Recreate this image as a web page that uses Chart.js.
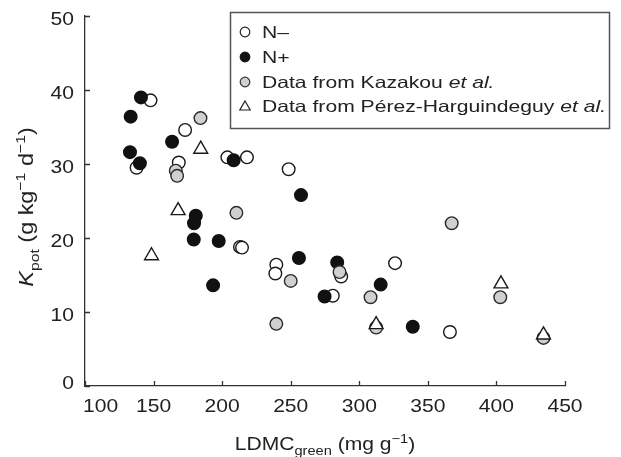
<!DOCTYPE html>
<html lang="en">
<head>
<meta charset="UTF-8">
<title>Kpot vs LDMC</title>
<script src="https://cdn.jsdelivr.net/npm/chart.js"></script>
<style>
  body { margin: 0; background: #fff; }
  #wrap { width: 621px; height: 457px; }
</style>
</head>
<body>
<div id="wrap"><canvas id="kpotChart" width="621" height="457"></canvas></div>
<script>
// LDMC_green (mg/g) and Kpot (g/kg/d)
let nMinusX = [147.8, 137.6, 173, 168.4, 203.8, 218.1, 248.5, 213, 214.5, 239.5, 238.8, 286.8, 280.7, 326.1, 366.1];
let nMinusY = [38.6, 29.5, 34.6, 30.2, 30.9, 30.9, 29.3, 18.8, 18.7, 16.4, 15.2, 14.8, 12.2, 16.6, 7.3];

let nPlusX = [140.8, 133.3, 163.5, 132.8, 140, 208.4, 257.5, 180.8, 179.5, 179.3, 197.5, 193.4, 256, 283.9, 274.7, 315.6, 339];
let nPlusY = [39.0, 36.4, 33.0, 31.6, 30.1, 30.5, 25.8, 23.0, 22.0, 19.8, 19.6, 13.6, 17.3, 16.7, 12.1, 13.7, 8.0];

let kazakouX = [184.2, 166.2, 167.2, 210.4, 250, 285.6, 308.2, 239.5, 367.4, 402.8, 312.3, 434.3];
let kazakouY = [36.2, 29.1, 28.4, 23.4, 14.2, 15.4, 12.0, 8.4, 22.0, 12.0, 7.9, 6.5];

let perezX = [184.4, 167.9, 148.5, 312.3, 403.3, 434.3];
let perezY = [32.0, 23.7, 17.6, 8.3, 13.8, 6.9];

let xTicks = [100, 150, 200, 250, 300, 350, 400, 450];
let yTicks = [0, 10, 20, 30, 40, 50];

let legendLabels = ["N\u2013", "N+", "Data from Kazakou ", "Data from P\u00e9rez-Harguindeguy "];

const FONT = '"Liberation Sans", Arial, sans-serif';
const SX = 1.17; // the figure's lettering is a bit wide

function pts(xs, ys) {
    return xs.map((x, i) => ({ x: x, y: ys[i] }));
}

function segWidth(ctx, s) {
    ctx.font = (s.style || "") + " " + s.size + "px " + FONT;
    return ctx.measureText(s.t).width;
}

// draws text pieces side by side (for sub/superscripts and italics)
function drawRich(ctx, segs, x, y, align, sx) {
    let total = 0;
    segs.forEach(s => total += segWidth(ctx, s) * sx);
    let cx = x;
    if (align === "center") cx = x - total / 2;
    if (align === "right") cx = x - total;
    segs.forEach(s => {
        let w = segWidth(ctx, s);
        ctx.save();
        ctx.translate(cx, y + (s.dy || 0));
        ctx.scale(sx, 1);
        ctx.fillText(s.t, 0, 0);
        ctx.restore();
        cx += w * sx;
    });
    return total;
}

const decorations = {
    id: "decorations",
    afterDraw(chart) {
        let ctx = chart.ctx;
        let xs = chart.scales.x, ys = chart.scales.y;
        let area = chart.chartArea;
        ctx.save();
        ctx.fillStyle = "#222";
        ctx.strokeStyle = "#333";
        ctx.lineWidth = 1.3;
        ctx.textBaseline = "alphabetic";

        // inward tick marks
        ctx.beginPath();
        yTicks.forEach(v => {
            let py = Math.round(ys.getPixelForValue(v)) + 0.5;
            ctx.moveTo(area.left, py);
            ctx.lineTo(area.left + 5, py);
        });
        xTicks.forEach(v => {
            let px = Math.round(xs.getPixelForValue(v)) + 0.5;
            ctx.moveTo(px, area.bottom);
            ctx.lineTo(px, area.bottom - 5);
        });
        ctx.stroke();

        // tick labels
        yTicks.forEach(v => {
            let py = ys.getPixelForValue(v);
            if (v === 0) py -= 6;
            drawRich(ctx, [{ t: String(v), size: 18 }], area.left - 11, py + 8.5, "right", SX);
        });
        xTicks.forEach((v, i) => {
            let px = xs.getPixelForValue(v);
            if (i === 0) drawRich(ctx, [{ t: String(v), size: 18 }], px - 2, 412, "left", SX);
            else drawRich(ctx, [{ t: String(v), size: 18 }], px, 412, "center", SX);
        });

        // x title
        drawRich(ctx, [
            { t: "LDMC", size: 18 },
            { t: "green", size: 12.5, dy: 5 },
            { t: " (mg g", size: 18 },
            { t: "\u22121", size: 12.5, dy: -7 },
            { t: ")", size: 18 }
        ], (area.left + area.right) / 2, 450, "center", SX);

        // y title
        ctx.save();
        ctx.translate(33, 207);
        ctx.rotate(-Math.PI / 2);
        drawRich(ctx, [
            { t: "K", size: 20, style: "italic" },
            { t: "pot", size: 13.5, dy: 5.5 },
            { t: " (g kg", size: 20 },
            { t: "\u22121", size: 13.5, dy: -8 },
            { t: " d", size: 20 },
            { t: "\u22121", size: 13.5, dy: -8 },
            { t: ")", size: 20 }
        ], 0, 0, "center", SX);
        ctx.restore();

        // legend box
        let bx = 230.5, by = 12.5, bw = 379, bh = 116;
        ctx.fillStyle = "#fff";
        ctx.fillRect(bx, by, bw, bh);
        ctx.strokeStyle = "#555";
        ctx.lineWidth = 1.5;
        ctx.strokeRect(bx, by, bw, bh);

        let longest = [{ t: legendLabels[3], size: 16.5 }, { t: "et al.", size: 16.5, style: "italic" }];
        let raw = 0;
        longest.forEach(s => raw += segWidth(ctx, s));
        let lsx = 344 / raw;

        let rowY = [32, 57, 82, 106];
        let styles = [
            { fill: "#fff", stroke: "#222", shape: "circle" },
            { fill: "#111", stroke: "#111", shape: "circle" },
            { fill: "#d0d0d0", stroke: "#333", shape: "circle" },
            { fill: "#fff", stroke: "#222", shape: "triangle" }
        ];
        styles.forEach((st, i) => {
            let mx = 245, my = rowY[i];
            ctx.fillStyle = st.fill;
            ctx.strokeStyle = st.stroke;
            ctx.lineWidth = 1.2;
            ctx.beginPath();
            if (st.shape === "circle") {
                ctx.arc(mx, my, 4.8, 0, Math.PI * 2);
            } else {
                let r = 6;
                for (let k = 0; k < 3; k++) {
                    let a = k * 2 * Math.PI / 3;
                    let px = mx + Math.sin(a) * r, py = my + 1 - Math.cos(a) * r;
                    if (k === 0) ctx.moveTo(px, py); else ctx.lineTo(px, py);
                }
                ctx.closePath();
            }
            ctx.fill();
            ctx.stroke();

            ctx.fillStyle = "#222";
            let segs = [{ t: legendLabels[i], size: 16.5 }];
            if (i >= 2) segs.push({ t: "et al.", size: 16.5, style: "italic" });
            drawRich(ctx, segs, 262, my + 6, "left", lsx);
        });
        ctx.restore();
    }
};

let ctx = document.getElementById("kpotChart").getContext("2d");
let kpotChart = new Chart(ctx, {
    type: "scatter",
    data: {
        datasets: [
            {
                label: "N\u2013",
                data: pts(nMinusX, nMinusY),
                pointStyle: "circle",
                pointRadius: 6.3,
                backgroundColor: "#fff",
                borderColor: "#1a1a1a",
                borderWidth: 1.4,
                order: 3
            },
            {
                label: "N+",
                data: pts(nPlusX, nPlusY),
                pointStyle: "circle",
                pointRadius: 6.3,
                backgroundColor: "#111",
                borderColor: "#111",
                borderWidth: 1.4,
                order: 2
            },
            {
                label: "Data from Kazakou et al.",
                data: pts(kazakouX, kazakouY),
                pointStyle: "circle",
                pointRadius: 6.3,
                backgroundColor: "#d0d0d0",
                borderColor: "#2a2a2a",
                borderWidth: 1.4,
                order: 1
            },
            {
                label: "Data from P\u00e9rez-Harguindeguy et al.",
                data: pts(perezX, perezY),
                pointStyle: "triangle",
                pointRadius: 8,
                backgroundColor: "#fff",
                borderColor: "#1a1a1a",
                borderWidth: 1.4,
                order: 0
            }
        ]
    },
    options: {
        responsive: false,
        animation: false,
        layout: { padding: { left: 0, top: 16, right: 56, bottom: 0 } },
        plugins: { legend: { display: false }, tooltip: { enabled: false } },
        scales: {
            x: {
                type: "linear",
                min: 100,
                max: 450,
                ticks: { display: false },
                grid: { display: false },
                border: { display: true, color: "#333", width: 1.3 },
                afterFit: s => { s.height = 71; }
            },
            y: {
                type: "linear",
                min: 0,
                max: 50,
                ticks: { display: false },
                grid: { display: false },
                border: { display: true, color: "#333", width: 1.3 },
                afterFit: s => { s.width = 85; }
            }
        }
    },
    plugins: [decorations]
});
</script>
</body>
</html>
